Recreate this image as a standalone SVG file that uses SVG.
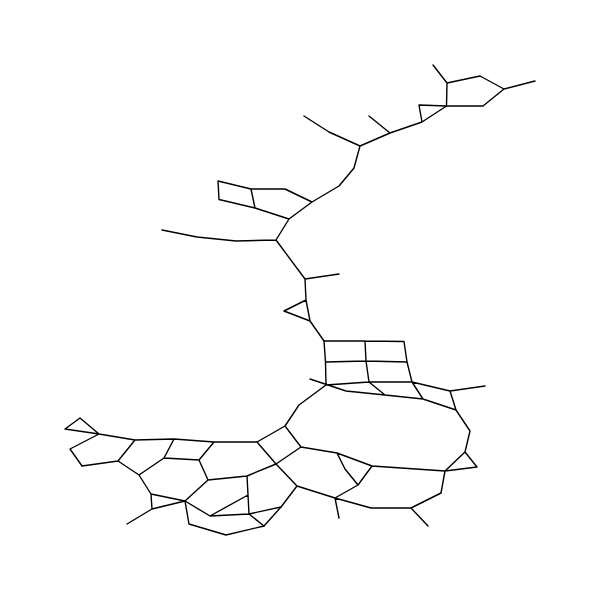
<svg xmlns="http://www.w3.org/2000/svg" width="600" height="600" viewBox="0 0 600 600">
<style>.b{fill:none;stroke:#000;stroke-width:1.4;stroke-linejoin:round;stroke-linecap:round}</style>
<rect width="600" height="600" fill="#fff"/>
<g id="connectors" class="b">
<path d="M535 81L504 89L480 76L447 83L433 65M447 83L446.500 106L483 106L504 89M446.500 106L419 105L422 122L446.500 106M422 122L390 133L369 116M390 133L360 146L329 132L304 116M360 146L354 168L339 186L312 202L285 189L251 189L218 181L219 199.500L255 208L289 219L312 202M251 189L255 208M289 219L276 240L236 241L197 237L162 230M276 240L305 279L339 274M305 279L306 300L284 311L310 321L306 300M310 321L324 341"/>
<path d="M324 341L365 341L404 341.500L407 362L412 382M324 341L325.500 362L326 385M365 341L366 361L369 382M325.500 362L366 361L407 362M326 385L369 382L412 382M310 379L346 391L385 395L423 399L456 410M369 382L385 395M412 382L423 399M412 382L450 391L485 386M450 391L456 410L470 431L465 452L445 471L441 493L411 508L371 508L335 498L297 486M465 452L477 467L445 471M411 508L428 526M335 498L339 518M335 498L358 485L372 466L445 471M372 466L337 453L345 469L358 485M337 453L301 447L276 464L297 486L281 507L264 526L226 535L189 524L185 501M326 385L299 405L285 426L301 447"/>
<path d="M99 434L65 429L80 418L99 434L70 449L82 466L118 461L135 440L99 434M135 440L174 439L214 442L257 442L285 426M257 442L276 464L247 476L208 480L185 501L151 494L139 475L118 461M139 475L164 458L174 439M164 458L199 460L214 442M199 460L208 480M151 494L152 509L185 501M152 509L127 524M185 501L210 516L249 514L264 526M210 516L248 495L247 476M248 495L249 514L281 507"/>
</g>
</svg>
